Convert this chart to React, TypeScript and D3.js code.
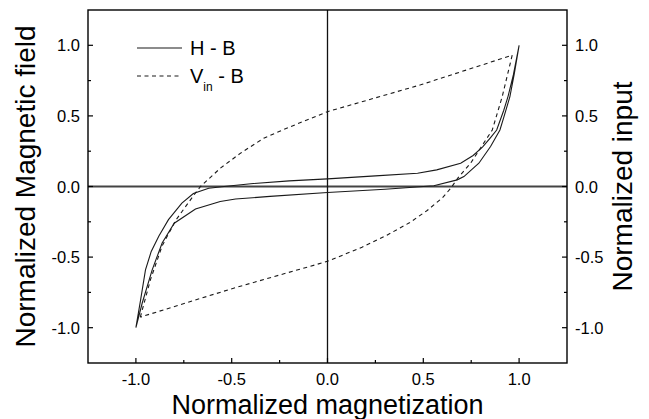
import * as d3 from "d3";
import React from "react";

// H - B loop (solid), going up along one branch and back along the other
const hbX = [-1.0, -0.975, -0.95, -0.92, -0.88, -0.83, -0.76, -0.7, -0.62, -0.54, -0.4, -0.2, 0, 0.25, 0.47, 0.57, 0.695, 0.76, 0.81, 0.85, 0.883, 0.92, 0.942, 0.97, 1.0,
    0.975, 0.952, 0.92, 0.9, 0.851, 0.79, 0.712, 0.677, 0.555, 0.3, 0, -0.3, -0.48, -0.56, -0.689, -0.8, -0.863, -0.915, -0.967, -1.0];
const hbY = [-1.0, -0.8, -0.59, -0.46, -0.35, -0.235, -0.118, -0.05, -0.012, 0.0, 0.02, 0.04, 0.054, 0.075, 0.094, 0.118, 0.165, 0.22, 0.28, 0.345, 0.4, 0.54, 0.637, 0.79, 1.0,
    0.8, 0.637, 0.49, 0.4, 0.283, 0.165, 0.07, 0.047, 0.005, -0.02, -0.042, -0.07, -0.089, -0.106, -0.16, -0.26, -0.4, -0.59, -0.825, -1.0];

// Vin - B loop (dashed)
const vbX = [-0.977, -0.924, -0.863, -0.79, -0.69, -0.663, -0.559, -0.454, -0.333, -0.193, 0, 0.486, 0.964,
    0.912, 0.86, 0.747, 0.68, 0.645, 0.6, 0.52, 0.43, 0.31, 0.18, 0, -0.49, -0.977];
const vbY = [-0.925, -0.66, -0.42, -0.235, -0.047, 0, 0.13, 0.236, 0.342, 0.424, 0.53, 0.72, 0.93,
    0.637, 0.4, 0.165, 0.06, -0.01, -0.08, -0.17, -0.255, -0.345, -0.43, -0.53, -0.72, -0.925];

const majorTicks = [-1.0, -0.5, 0.0, 0.5, 1.0];
const minorTicks = [-0.75, -0.25, 0.25, 0.75];
const tickLabels = ["-1.0", "-0.5", "0.0", "0.5", "1.0"];

const W = 649, H = 419;
const m = {left: 88, top: 10, right: 82, bottom: 56};
const font = "'Liberation Sans', Arial, sans-serif";
const ink = "#1a1a1a";

const App = () => {
    const x = d3.scaleLinear().domain([-1.25, 1.25]).range([m.left, W - m.right]);
    const y = d3.scaleLinear().domain([-1.25, 1.25]).range([H - m.bottom, m.top]);

    const line = d3.line<[number, number]>().x(d => x(d[0])).y(d => y(d[1]));
    const hbPath = line(hbX.map((v, i) => [v, hbY[i]]));
    const vbPath = line(vbX.map((v, i) => [v, vbY[i]]));

    const x0 = x(-1.25), x1 = x(1.25), y0 = y(-1.25), y1 = y(1.25);

    return (
        <svg width={W} height={H} style={{position: "absolute", left: 0, top: 0, background: "#fff"}}
             fontFamily={font}>
            {/* zero lines */}
            <line x1={x0} x2={x1} y1={y(0)} y2={y(0)} stroke="#444" strokeWidth={2}/>
            <line x1={x(0)} x2={x(0)} y1={y1} y2={y0} stroke="#111" strokeWidth={1.3}/>

            {/* curves */}
            <path d={hbPath || ""} fill="none" stroke={ink} strokeWidth={1.1}/>
            <path d={vbPath || ""} fill="none" stroke={ink} strokeWidth={1.1} strokeDasharray="4,3.5"/>

            {/* frame */}
            <rect x={x0} y={y1} width={x1 - x0} height={y0 - y1} fill="none" stroke="#000" strokeWidth={1.4}/>

            {/* bottom ticks */}
            {majorTicks.map((t, i) => (
                <g key={"bx" + t}>
                    <line x1={x(t)} x2={x(t)} y1={y0} y2={y0 - 5} stroke="#000" strokeWidth={1.2}/>
                    <text x={x(t)} y={y0 + 22} textAnchor="middle" fontSize={16.5} fill="#000">{tickLabels[i]}</text>
                </g>
            ))}
            {minorTicks.map(t => (
                <line key={"bm" + t} x1={x(t)} x2={x(t)} y1={y0} y2={y0 - 3} stroke="#000" strokeWidth={1.2}/>
            ))}

            {/* left ticks */}
            {majorTicks.map((t, i) => (
                <g key={"ly" + t}>
                    <line x1={x0} x2={x0 + 5} y1={y(t)} y2={y(t)} stroke="#000" strokeWidth={1.2}/>
                    <text x={x0 - 8} y={y(t) + 6} textAnchor="end" fontSize={16.5} fill="#000">{tickLabels[i]}</text>
                </g>
            ))}
            {minorTicks.map(t => (
                <line key={"lm" + t} x1={x0} x2={x0 + 3} y1={y(t)} y2={y(t)} stroke="#000" strokeWidth={1.2}/>
            ))}

            {/* right ticks */}
            {majorTicks.map((t, i) => (
                <g key={"ry" + t}>
                    <line x1={x1} x2={x1 - 5} y1={y(t)} y2={y(t)} stroke="#000" strokeWidth={1.2}/>
                    <text x={x1 + 8} y={y(t) + 6} textAnchor="start" fontSize={16.5} fill="#000">{tickLabels[i]}</text>
                </g>
            ))}
            {minorTicks.map(t => (
                <line key={"rm" + t} x1={x1} x2={x1 - 3} y1={y(t)} y2={y(t)} stroke="#000" strokeWidth={1.2}/>
            ))}

            {/* axis titles */}
            <text x={x(0)} y={414} textAnchor="middle" fontSize={27} fill="#000">Normalized magnetization</text>
            <text transform={`translate(35,${(y0 + y1) / 2}) rotate(-90)`} textAnchor="middle" fontSize={28}
                  fill="#000">Normalized Magnetic field</text>
            <text transform={`translate(632,${(y0 + y1) / 2}) rotate(-90)`} textAnchor="middle" fontSize={28}
                  fill="#000">Normalized input</text>

            {/* legend */}
            <line x1={137} x2={182} y1={48} y2={48} stroke={ink} strokeWidth={1.1}/>
            <text x={190} y={55} fontSize={20} fill="#000">H - B</text>
            <line x1={137} x2={182} y1={76} y2={76} stroke={ink} strokeWidth={1.1} strokeDasharray="4,3.5"/>
            <text x={190} y={83} fontSize={20} fill="#000">
                V<tspan fontSize={12} dy={8}>in</tspan><tspan dy={-8}> - B</tspan>
            </text>
        </svg>
    );
};

export default App;
